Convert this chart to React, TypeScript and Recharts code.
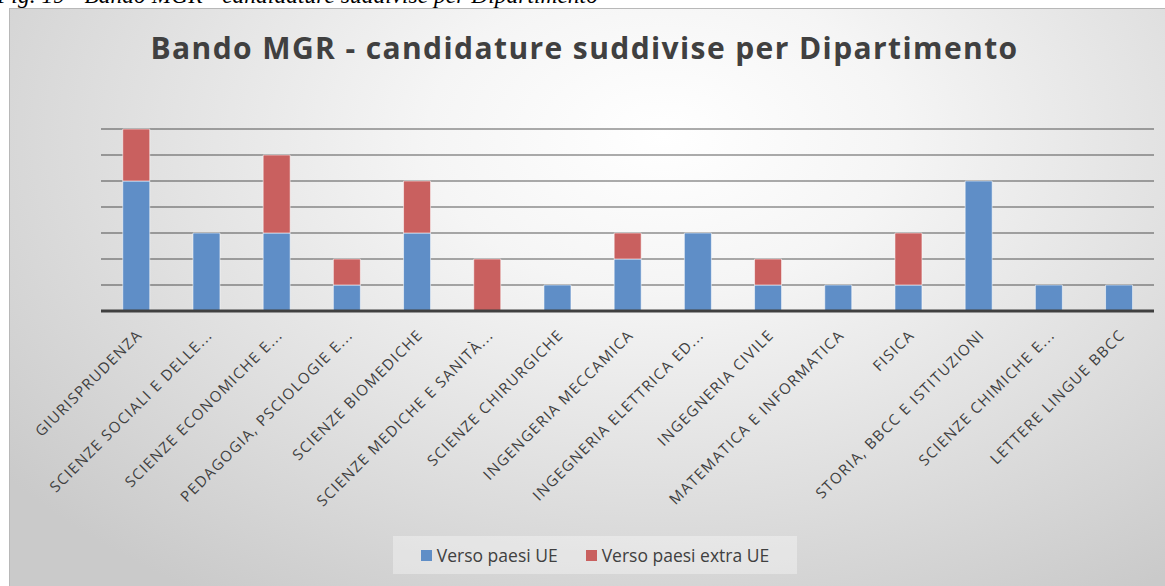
import { BarChart, Bar, XAxis, YAxis, CartesianGrid } from 'recharts';

const categories = [
  'GIURISPRUDENZA',
  'SCIENZE SOCIALI E DELLE...',
  'SCIENZE ECONOMICHE E...',
  'PEDAGOGIA, PSCIOLOGIE E...',
  'SCIENZE BIOMEDICHE',
  'SCIENZE MEDICHE E SANITÀ...',
  'SCIENZE CHIRURGICHE',
  'INGENGERIA MECCAMICA',
  'INGEGNERIA ELETTRICA ED...',
  'INGEGNERIA CIVILE',
  'MATEMATICA E INFORMATICA',
  'FISICA',
  'STORIA, BBCC E ISTITUZIONI',
  'SCIENZE CHIMICHE E...',
  'LETTERE LINGUE BBCC'
];
const ueValues = [5, 3, 3, 1, 3, 0, 1, 2, 3, 1, 1, 1, 5, 1, 1];
const extraUeValues = [2, 0, 3, 1, 2, 2, 0, 1, 0, 1, 0, 2, 0, 0, 0];
const yTicks = [0, 1, 2, 3, 4, 5, 6, 7];

const seriesNames = ['Verso paesi UE', 'Verso paesi extra UE'];
const BLUE = '#5f8ec7';
const RED = '#c9605f';
const TEXT = '#404040';

const data = categories.map((name, i) => ({
  name,
  ue: ueValues[i],
  extra: extraUeValues[i]
}));

const AngledTick = ({ x, y, payload }: any) => (
  <text
    x={x + 7}
    y={y + 25}
    transform={`rotate(-45, ${x + 7}, ${y + 25})`}
    textAnchor="end"
    fill={TEXT}
    fontSize={15}
    letterSpacing={1.3}
    fontFamily="'Open Sans', sans-serif"
  >
    {payload.value}
  </text>
);

// legend drawn as a plain box so it does not squeeze the plot area
const LegendBox = () => (
  <div
    style={{
      position: 'absolute',
      left: 393,
      top: 536,
      width: 404,
      height: 38,
      display: 'flex',
      alignItems: 'center',
      justifyContent: 'center',
      gap: 28,
      background: 'rgba(255,255,255,0.35)',
      fontFamily: "'Open Sans', sans-serif",
      fontSize: 17.5,
      color: TEXT
    }}
  >
    {seriesNames.map((s, i) => (
      <span key={s} style={{ display: 'flex', alignItems: 'center' }}>
        <span
          style={{
            display: 'inline-block',
            width: 11,
            height: 11,
            marginRight: 5,
            background: i === 0 ? BLUE : RED
          }}
        />
        {s}
      </span>
    ))}
  </div>
);

export default function App() {
  return (
    <div style={{ position: 'absolute', left: 0, top: 0, width: 1165, height: 586, overflow: 'hidden', background: '#fff' }}>
      {/* caption of the document, cut off at the top */}
      <div
        style={{
          position: 'absolute',
          left: -3,
          top: -18,
          fontFamily: "'Liberation Serif', serif",
          fontStyle: 'italic',
          fontSize: 23.5,
          color: '#000',
          whiteSpace: 'nowrap'
        }}
      >
        Fig. 19 - Bando MGR - candidature suddivise per Dipartimento
      </div>
      <div
        style={{
          position: 'absolute',
          left: 9,
          top: 8,
          width: 1165,
          height: 577,
          borderLeft: '1px solid #b8b8b8',
          borderTop: '1px solid #b8b8b8',
          borderBottom: '1px solid #b8b8b8',
          background:
            'radial-gradient(ellipse 72% 95% at 56% 22%, #ffffff 0%, #f5f5f5 28%, #e2e2e2 60%, #cacaca 100%)'
        }}
      />
      <div
        style={{
          position: 'absolute',
          left: 0,
          top: 27,
          width: 1165,
          textAlign: 'center',
          fontFamily: "'Open Sans', sans-serif",
          fontWeight: 700,
          fontSize: 30,
          letterSpacing: 1.4,
          color: TEXT,
          paddingLeft: 2,
          whiteSpace: 'nowrap'
        }}
      >
        Bando MGR - candidature suddivise per Dipartimento
      </div>
      <div style={{ position: 'absolute', left: 0, top: 0 }}>
        <BarChart
          width={1165}
          height={586}
          data={data}
          margin={{ top: 129, right: 11, bottom: 0, left: 101 }}
          barCategoryGap="31%"
        >
          <CartesianGrid
            vertical={false}
            horizontalValues={yTicks}
            stroke="rgba(0,0,0,0.32)"
            strokeWidth={2}
          />
          <YAxis hide width={0} domain={[0, 7]} ticks={yTicks} interval={0} />
          <XAxis
            dataKey="name"
            interval={0}
            height={275}
            tickLine={false}
            tickSize={0}
            tickMargin={0}
            axisLine={{ stroke: TEXT, strokeWidth: 3 }}
            tick={<AngledTick />}
          />
          <Bar
            dataKey="ue"
            name={seriesNames[0]}
            stackId="a"
            fill={BLUE}
            stroke="rgba(255,255,255,0.55)"
            strokeWidth={1}
            isAnimationActive={false}
          />
          <Bar
            dataKey="extra"
            name={seriesNames[1]}
            stackId="a"
            fill={RED}
            stroke="rgba(255,255,255,0.55)"
            strokeWidth={1}
            isAnimationActive={false}
          />
        </BarChart>
      </div>
      <LegendBox />
    </div>
  );
}
